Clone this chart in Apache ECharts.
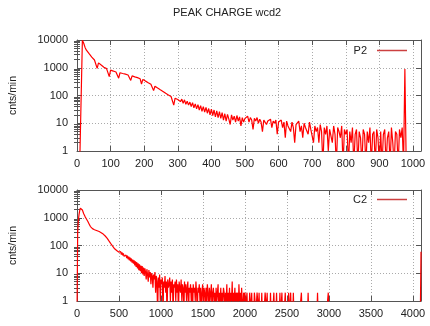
<!DOCTYPE html>
<html>
<head>
<meta charset="utf-8">
<script src="https://cdn.jsdelivr.net/npm/echarts@6/dist/echarts.min.js"></script>
<style>
  html, body { margin: 0; padding: 0; background: #fff; }
  #chart { width: 430px; height: 326px; }
</style>
</head>
<body>
<div id="chart"></div>
<script>
// peak charge histograms, counts per bin (0 = empty bin)
var chartTitle = 'PEAK CHARGE wcd2';
var yTicks = [1, 10, 100, 1000, 10000];

// P2: bins of 4 from 0 to 1020
var p2Step = 4;
var p2XTicks = [0, 100, 200, 300, 400, 500, 600, 700, 800, 900, 1000];
var p2Counts = [
  0, 0, 0, 0,
  9800, 7600, 5400, 4300, 3900, 3200, 2800, 2400, 2100, 1900, 1700,
  950, 1500, 1350, 1250, 1150, 1050, 980, 930, 880,
  480, 820, 900, 760, 720, 700, 680, 420,
  660, 640, 620, 600, 590, 570, 550, 530,
  350, 510, 490, 470, 450, 440, 420, 400,
  260, 380, 350, 330, 310, 290, 270, 255, 240,
  150, 215, 200, 185, 175, 160, 150, 140, 130, 120,
  112, 105, 98, 92, 86, 45, 80, 76, 72,
  80, 60, 74, 52, 70, 48, 62, 45, 58, 40, 55, 36, 50, 33, 47, 30, 43, 27, 40, 25,
  37, 23, 34, 20, 32, 19, 30, 17, 28, 16, 26, 15, 24, 13, 22, 12, 21, 14, 9, 20,
  13, 18, 11, 19, 12, 17, 8, 16, 11, 15,
  14, 18, 11, 16, 13, 6, 15, 12, 16, 10, 14, 11, 5, 13, 15, 9, 12, 11, 14, 7, 12, 10, 13, 4, 11,
  10, 13, 7, 11, 3, 12, 8, 9, 5, 11, 7, 2, 9, 8, 12, 5, 8, 3, 10, 7, 8, 4, 11, 6, 7,
  2, 8, 5, 7, 2, 9, 5, 0, 7, 4, 8, 1, 6, 7, 2, 8, 4, 0, 7, 5, 3, 8, 0, 6, 4,
  6, 0, 5, 2, 7, 0, 4, 6, 0, 5, 3, 0, 6, 4, 0, 5, 2, 7, 0, 4, 5, 0, 6, 3, 0,
  5, 0, 4, 6, 0, 3, 5, 0, 7, 2, 0, 5, 4, 0, 6, 3, 7, 0,
  900,
  0, 0, 0, 0, 0, 0, 0, 0, 0, 0, 0
];

// C2: bins of 8 from 0 to 3000, then nothing until the overflow bin at the edge
var c2Step = 8;
var c2XTicks = [0, 500, 1000, 1500, 2000, 2500, 3000, 3500, 4000];
var c2Counts = [
  0, 300, 800, 1300, 1800, 2200, 2300, 2100, 1900, 1650,
  1400, 1250, 1100, 1000, 900, 820, 750, 680, 600, 540,
  480, 450, 420, 405, 390, 380, 370, 360, 350, 345,
  340, 332, 325, 318, 310, 300, 290, 280, 270, 258,
  245, 232, 220, 208, 195, 180, 165, 152, 140, 130,
  120, 110, 102, 95, 88, 82, 76, 73, 70, 66,
  62, 60, 58,
  64, 52, 60, 47, 56, 44, 52, 41, 48, 38, 45, 35, 43, 32, 40, 29, 37, 27, 34, 24,
  31, 22, 29, 19, 27, 17, 25, 15, 23, 13, 21, 12, 19, 10, 18, 9, 16, 8, 15, 11,
  6, 14, 9, 5, 13, 7, 11, 4, 10, 8, 3, 9, 6, 11, 2, 8, 5, 0, 7, 3,
  9, 1, 6,
  4, 7, 0, 5, 3, 8, 2, 5, 0, 6, 3, 4, 7, 1, 5, 2, 6, 0, 4, 3,
  5, 1, 6, 2, 4, 0, 5, 3, 2, 6, 1, 4, 3, 0, 5, 2, 4, 1, 3, 5,
  0, 3, 2, 4, 1, 3, 0, 4, 2, 3, 1, 5, 2, 0, 3, 2, 4, 1, 3, 0,
  2, 4,
  1, 3, 2, 0, 3, 1, 4, 2, 0, 3, 1, 2, 4, 0, 2, 3, 1, 2, 0, 3,
  1, 2, 4, 0, 2, 1, 3, 0, 2, 1, 3, 2, 0, 2, 1, 4, 0, 2, 1, 3,
  0, 2, 1, 5, 0, 2, 1, 3, 0, 2, 1, 2, 0, 4, 1, 2, 0, 3, 1, 0,
  2, 1,
  2, 0, 1, 2, 0, 1, 0, 2, 1, 0, 2, 0, 1, 0, 2, 1, 0, 0, 2, 1,
  0, 2, 0, 1, 0, 2, 0, 1, 0, 0, 2, 1, 0, 2, 0, 0, 1, 0, 2, 0,
  1, 0, 0, 2, 0, 1, 0, 2, 0, 0, 1, 0, 2, 0, 0, 2, 0, 1, 0, 0,
  2, 0, 0, 1, 0, 2, 0, 0, 2, 0, 1, 0, 2, 0, 0,
  0, 0, 0, 0, 0, 0, 0, 0, 0, 2, 0, 0, 0, 0, 0, 0, 0, 0, 0, 2,
  0, 0, 0, 0, 0, 0, 0, 0, 0, 0, 0, 0, 0, 2, 0, 0, 0, 0, 0, 0,
  0, 0, 0, 0, 0, 0, 0, 0, 0, 2, 0
];
var c2EdgeX = [4088, 4096];
var c2EdgeCounts = [0, 60];

var FONT = 'Liberation Sans';
var TEXT = '#222';
var AXIS = '#555';
var GRIDLINE = '#aaa';
var RED = '#f00';
var BELOW = 0.3; // empty bins fall below the log axis and get clipped

function toPoints(xs, counts) {
  return counts.map(function (c, i) { return [xs[i], c > 0 ? c : BELOW]; });
}
function binStarts(counts, step) {
  return counts.map(function (c, i) { return i * step; });
}

var minorTicks = [];
yTicks.slice(0, -1).forEach(function (d) {
  for (var k = 2; k < 10; k++) minorTicks.push(k * d);
});

function plainLabel(v) { return String(v); }

function xAxes(gridIndex, max, interval, ticks) {
  var common = {
    gridIndex: gridIndex, type: 'value', min: 0, max: max, interval: interval,
    axisLine: { show: true, onZero: false, lineStyle: { color: AXIS, width: 1 } },
    axisTick: { inside: true, length: 5, customValues: ticks, lineStyle: { color: AXIS } }
  };
  return [
    Object.assign({}, common, {
      position: 'bottom',
      axisLabel: {
        customValues: ticks, margin: 7, fontFamily: FONT, fontSize: 11, color: TEXT,
        formatter: plainLabel
      },
      splitLine: { show: true, lineStyle: { color: GRIDLINE, type: [1, 2] } }
    }),
    Object.assign({}, common, {
      position: 'top', axisLabel: { show: false }, splitLine: { show: false }
    })
  ];
}

function yAxes(gridIndex) {
  var common = { gridIndex: gridIndex, type: 'log', logBase: 10, min: 1, max: 10000 };
  var line = { show: true, onZero: false, lineStyle: { color: AXIS, width: 1 } };
  var major = { inside: true, length: 5, customValues: yTicks, lineStyle: { color: AXIS } };
  var minor = { inside: true, length: 3, customValues: minorTicks, lineStyle: { color: AXIS } };
  return [
    Object.assign({}, common, {
      position: 'left', axisLine: line, axisTick: major,
      axisLabel: {
        customValues: yTicks, margin: 9, fontFamily: FONT, fontSize: 11, color: TEXT,
        formatter: plainLabel
      },
      splitLine: { show: true, lineStyle: { color: GRIDLINE, type: [1, 2] } },
      name: 'cnts/min', nameLocation: 'middle', nameGap: 58, nameRotate: 90,
      nameTextStyle: { fontFamily: FONT, fontSize: 10.5, color: TEXT }
    }),
    Object.assign({}, common, {
      position: 'left', axisLine: { show: false }, axisTick: minor,
      axisLabel: { show: false }, splitLine: { show: false }
    }),
    Object.assign({}, common, {
      position: 'right', axisLine: line, axisTick: major,
      axisLabel: { show: false }, splitLine: { show: false }
    }),
    Object.assign({}, common, {
      position: 'right', axisLine: { show: false }, axisTick: minor,
      axisLabel: { show: false }, splitLine: { show: false }
    })
  ];
}

function legendFor(name, top) {
  return {
    data: [name], right: 18, top: top, align: 'right', icon: 'rect',
    itemWidth: 30, itemHeight: 1.5, itemStyle: { color: '#cc4040' },
    textStyle: { fontFamily: FONT, fontSize: 11, color: TEXT, padding: [0, 5, 0, 0] },
    selectedMode: false
  };
}

function histSeries(name, points, xIdx, yIdx) {
  return {
    name: name, type: 'line', xAxisIndex: xIdx, yAxisIndex: yIdx,
    data: points, symbol: 'none', showSymbol: false, clip: true,
    lineStyle: { width: 1.2, color: RED }, itemStyle: { color: RED },
    silent: true
  };
}

var p2Points = toPoints(binStarts(p2Counts, p2Step), p2Counts);
var c2Points = toPoints(binStarts(c2Counts, c2Step), c2Counts)
  .concat(toPoints(c2EdgeX, c2EdgeCounts));

var chart = echarts.init(document.getElementById('chart'));
chart.setOption({
  animation: false,
  backgroundColor: '#fff',
  title: {
    text: chartTitle, left: 168, top: 2,
    textStyle: { fontFamily: FONT, fontSize: 11, fontWeight: 'normal', color: TEXT }
  },
  legend: [legendFor('P2', 40), legendFor('C2', 189)],
  grid: [
    { left: 74, top: 40, width: 347, height: 111 },
    { left: 74, top: 190, width: 347, height: 111 }
  ],
  xAxis: xAxes(0, 1024, 100, p2XTicks).concat(xAxes(1, 4096, 500, c2XTicks)),
  yAxis: yAxes(0).concat(yAxes(1)),
  series: [
    histSeries('P2', p2Points, 0, 0),
    histSeries('C2', c2Points, 2, 4)
  ]
});
</script>
</body>
</html>
